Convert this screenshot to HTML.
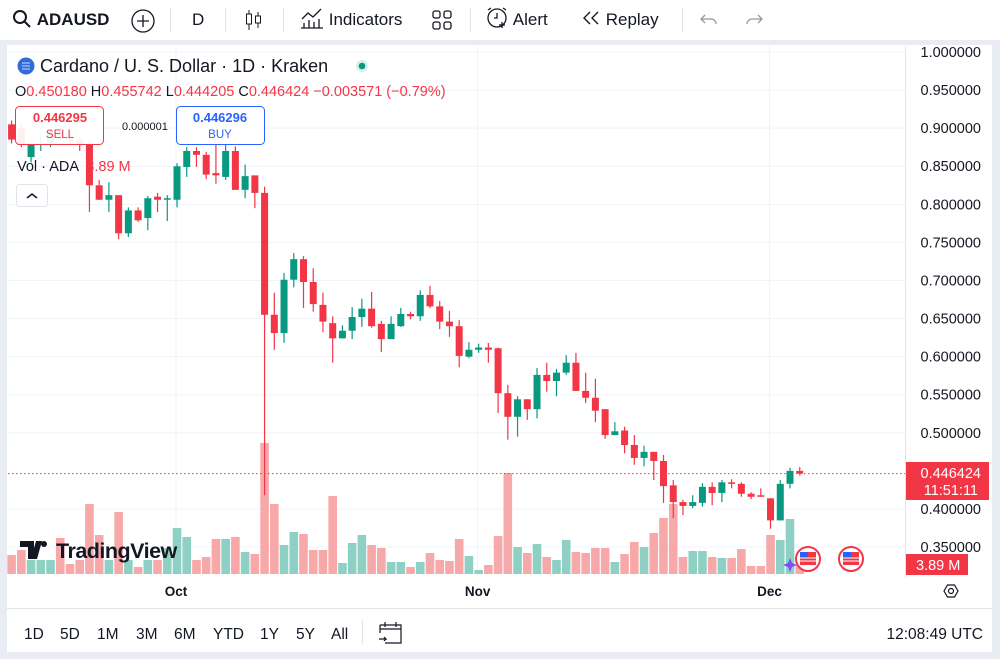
<!DOCTYPE html>
<html><head><meta charset="utf-8">
<style>
body{margin:0;width:1000px;height:659px;overflow:hidden;background:#e9ecf2;font-family:"Liberation Sans",sans-serif;color:#131722}
#top{position:absolute;left:0;top:0;width:1000px;height:40px;background:#fff}
.tb{position:absolute;top:0;height:40px;line-height:40px;font-size:17px;color:#131722}
.div{position:absolute;top:8px;width:1px;height:24px;background:#e0e3eb}
#panel{position:absolute;left:7px;top:45px;width:985px;height:607px;background:#fff}
svg text{font-family:"Liberation Sans",sans-serif}
</style></head><body>
<div id="top">
  <div class="tb" style="left:12px"><svg width="20" height="20" style="vertical-align:-4px"><circle cx="8" cy="8" r="6" fill="none" stroke="#131722" stroke-width="2"/><line x1="12.5" y1="12.5" x2="18" y2="18" stroke="#131722" stroke-width="2"/></svg> <b>ADAUSD</b></div>
  <svg style="position:absolute;left:130px;top:8px" width="26" height="26"><circle cx="13" cy="13" r="11" fill="none" stroke="#131722" stroke-width="1.3"/><path d="M13 7v12M7 13h12" stroke="#131722" stroke-width="1.3"/></svg>
  <div class="div" style="left:170px"></div>
  <div class="tb" style="left:192px">D</div>
  <div class="div" style="left:225px"></div>
  <svg style="position:absolute;left:243px;top:8px" width="22" height="24"><path d="M6 2v20M15 4v16" stroke="#131722"/><rect x="3.5" y="6" width="5" height="10" fill="#fff" stroke="#131722"/><rect x="12.5" y="8" width="5" height="7" fill="#fff" stroke="#131722"/></svg>
  <div class="div" style="left:283px"></div>
  <div class="tb" style="left:300px"><svg width="24" height="22" style="vertical-align:-4px"><path d="M2 12l6-6 5 4 8-8" fill="none" stroke="#131722" stroke-width="1.3"/><path d="M4 21v-5M9 21v-8M14 21v-6M19 21v-9M1 21h22" stroke="#131722" stroke-width="1.3"/></svg> Indicators</div>
  <svg style="position:absolute;left:431px;top:9px" width="22" height="22"><rect x="2" y="2" width="7" height="7" rx="2" fill="none" stroke="#131722" stroke-width="1.3"/><rect x="13" y="2" width="7" height="7" rx="2" fill="none" stroke="#131722" stroke-width="1.3"/><rect x="2" y="13" width="7" height="7" rx="2" fill="none" stroke="#131722" stroke-width="1.3"/><rect x="13" y="13" width="7" height="7" rx="2" fill="none" stroke="#131722" stroke-width="1.3"/></svg>
  <div class="div" style="left:470px"></div>
  <div class="tb" style="left:485px"><svg width="24" height="24" style="vertical-align:-5px"><circle cx="12" cy="12" r="9" fill="none" stroke="#131722" stroke-width="1.3"/><path d="M12 7v5h-3M3 4l3-2M21 4l-3-2M17 16v6M14 19h6" stroke="#131722" stroke-width="1.3" fill="none"/></svg> Alert</div>
  <div class="tb" style="left:581px"><svg width="20" height="20" style="vertical-align:-3px"><path d="M9 4L3 10l6 6M17 4l-6 6 6 6" fill="none" stroke="#131722" stroke-width="1.4"/></svg> Replay</div>
  <div class="div" style="left:682px"></div>
  <svg style="position:absolute;left:699px;top:10px" width="20" height="20"><path d="M6 5L2 9l4 4M2 9h10a5 5 0 0 1 5 5" fill="none" stroke="#9598a1" stroke-width="1.3"/></svg>
  <svg style="position:absolute;left:744px;top:10px" width="20" height="20"><path d="M14 5l4 4-4 4M18 9H8a5 5 0 0 0-5 5" fill="none" stroke="#9598a1" stroke-width="1.3"/></svg>
</div>
<div id="panel"></div>
<svg id="chart" style="position:absolute;left:0;top:0" width="1000" height="659">
  <g id="grid"></g>
  <g id="vols"></g>
  <g id="candles"></g>
  <g id="axis"></g>
</svg>
<script>
const opens=[.905,.900,.862,.878,.880,.895,.890,.885,.878,.825,.806,.812,.762,.792,.782,.810,.806,.806,.849,.870,.865,.841,.836,.870,.819,.838,.815,.655,.631,.701,.728,.698,.668,.644,.624,.634,.652,.663,.643,.623,.640,.656,.653,.681,.666,.646,.640,.600,.609,.612,.611,.552,.521,.544,.531,.576,.568,.579,.592,.555,.546,.531,.497,.503,.484,.467,.475,.463,.431,.409,.404,.408,.429,.421,.435,.433,.420,.418,.414,.385,.433,.450];
const highs=[.910,.905,.880,.890,.898,.900,.895,.890,.882,.832,.829,.812,.796,.796,.811,.815,.812,.854,.875,.875,.869,.878,.878,.876,.852,.838,.823,.684,.710,.736,.732,.716,.684,.653,.641,.665,.676,.685,.647,.653,.664,.659,.687,.693,.673,.660,.648,.619,.617,.618,.612,.563,.548,.544,.585,.592,.584,.602,.605,.579,.571,.531,.514,.508,.497,.483,.475,.471,.438,.412,.418,.434,.435,.438,.439,.435,.422,.427,.414,.438,.454,.455];
const lows=[.880,.875,.855,.870,.875,.885,.878,.870,.790,.806,.790,.754,.757,.777,.766,.790,.778,.796,.836,.849,.833,.827,.832,.819,.808,.795,.418,.609,.618,.691,.664,.659,.632,.592,.624,.623,.639,.638,.606,.623,.639,.649,.647,.664,.636,.626,.586,.598,.605,.592,.526,.491,.495,.517,.519,.554,.548,.576,.555,.539,.514,.492,.497,.473,.458,.456,.438,.408,.388,.392,.401,.403,.405,.409,.427,.416,.413,.416,.374,.385,.427,.444];
const closes=[.885,.878,.878,.880,.895,.890,.885,.878,.825,.806,.812,.762,.792,.779,.808,.806,.808,.850,.870,.865,.839,.838,.870,.819,.837,.815,.655,.631,.701,.728,.698,.669,.646,.624,.634,.652,.663,.640,.623,.643,.656,.653,.681,.666,.646,.640,.601,.609,.612,.609,.552,.521,.544,.531,.576,.568,.579,.592,.555,.546,.529,.497,.502,.484,.467,.475,.463,.430,.409,.404,.409,.429,.421,.435,.433,.420,.416,.416,.385,.433,.450,.446424];
const volumes=[7.6,9.6,5.6,5.6,5.6,14.4,4,5.6,28,15.6,5.6,24.8,5.6,2.8,5.6,5.6,10.4,18.4,14.8,5.6,6.8,14,14,14.8,8.8,8,52.4,28,11.6,16.8,16,9.6,9.6,31.2,4.4,12.4,15.6,11.6,10.4,4.8,4.8,2.8,4.8,8.4,5.6,5.2,14,7.2,1.6,3.6,15.2,40.4,10.8,8.4,12,6.8,5.6,13.6,8.8,8.4,10.4,10.4,4.8,8,12.8,10.8,16.4,22.4,28,6.8,9.2,9.2,6.8,6.4,6.4,10,3.2,3.2,15.6,13.6,22,3.89];
const priceTicks=[1.0,0.95,0.9,0.85,0.8,0.75,0.7,0.65,0.6,0.55,0.5,0.4,0.35];
const monthLabels=["Oct","Nov","Dec"];
const monthIdx=[17,48,78];
const lastPrice=0.446424;

const NS="http://www.w3.org/2000/svg";
const xS=i=>11.6+i*9.73;
const yP=p=>52+(1-p)*761.6;
const yV=v=>574-v*2.5;
function mk(tag,attrs,parent,txt){const e=document.createElementNS(NS,tag);for(const k in attrs)e.setAttribute(k,attrs[k]);if(txt!==undefined)e.textContent=txt;parent.appendChild(e);return e;}
const grid=document.getElementById('grid'),vols=document.getElementById('vols'),cg=document.getElementById('candles'),ax=document.getElementById('axis');
priceTicks.forEach(p=>{const l=mk('line',{x1:8,x2:905,y1:yP(p),y2:yP(p),stroke:'#f0f3fa'},grid);

});
monthIdx.forEach(i=>{const l=mk('line',{x1:xS(i)-1,x2:xS(i)-1,y1:46,y2:578,stroke:'#f0f3fa'},grid);

});
volumes.forEach((v,i)=>{const up=closes[i]>=opens[i];
const r=mk('rect',{x:xS(i)-4.3,y:yV(v),width:8.6,height:574-yV(v),fill:up?'#8fd0c5':'#f7a9a9'},vols);

});
closes.forEach((c,i)=>{const o=opens[i],up=c>=o,col=up?'#089981':'#f23645';
const g=mk('g',{},cg);


mk('line',{x1:xS(i),x2:xS(i),y1:yP(highs[i]),y2:yP(lows[i]),stroke:col,'stroke-width':1.2},g);
const t=yP(Math.max(o,c)),b=yP(Math.min(o,c));
mk('rect',{x:xS(i)-3.5,y:t,width:7,height:Math.max(1.5,b-t),fill:col},g);});
const lp=mk('line',{x1:8,x2:905,y1:yP(lastPrice),y2:yP(lastPrice),stroke:'#f23645','stroke-dasharray':'1.5 2.5','stroke-width':1},ax);


priceTicks.forEach(p=>{const t=mk('text',{x:981,y:yP(p)+5,'text-anchor':'end','font-size':14.5,fill:'#131722'},ax,p.toFixed(6));

});
monthLabels.forEach((m,i)=>{const t=mk('text',{x:xS(monthIdx[i])-1,y:596,'text-anchor':'middle','font-size':13.5,'font-weight':'bold',fill:'#131722'},ax,m);

});
</script>
<svg style="position:absolute;left:0;top:0;pointer-events:none" width="1000" height="659">
  <rect x="905" y="46" width="1" height="532" fill="#e0e3eb"/>
  <rect x="7" y="608" width="985" height="1" fill="#e0e3eb"/>
  <g><rect x="906" y="462" width="83" height="38" fill="#f23645"/><text x="981" y="478" text-anchor="end" font-size="14.5" fill="#fff">0.446424</text><text x="978" y="495" text-anchor="end" font-size="14.5" fill="#fff">11:51:11</text></g>
  <g><rect x="906" y="554" width="62" height="21" fill="#f23645"/><text x="916" y="570" font-size="14.5" fill="#fff">3.89 M</text></g>
  <g><polygon points="944,591 947.5,585 954.5,585 958,591 954.5,597 947.5,597" fill="none" stroke="#131722" stroke-width="1.2"/><circle cx="951" cy="591" r="2.5" fill="none" stroke="#131722" stroke-width="1.2"/></g>
  <g>
   <circle cx="26" cy="66" r="8.5" fill="#2f6bd9"/><path d="M22 63h8M22 66h8M22 69h8" stroke="#fff" stroke-width="0.8"/>
   <text x="40" y="72" font-size="18" fill="#131722">Cardano / U. S. Dollar · 1D · Kraken</text>
   <circle cx="362" cy="66" r="6" fill="#d6f1ea"/><circle cx="362" cy="66" r="3.3" fill="#089981"/>
   <text x="15" y="96" font-size="14.5" fill="#131722">O<tspan fill="#f23645">0.450180</tspan> H<tspan fill="#f23645">0.455742</tspan> L<tspan fill="#f23645">0.444205</tspan> C<tspan fill="#f23645">0.446424 −0.003571 (−0.79%)</tspan></text>
  </g>
  <g><rect x="15.5" y="106.5" width="88" height="38" rx="4" fill="#fff" fill-opacity="0.92" stroke="#f23645"/><text x="60" y="122" text-anchor="middle" font-size="13" font-weight="bold" fill="#f23645">0.446295</text><text x="60" y="138" text-anchor="middle" font-size="11.5" fill="#f23645">SELL</text></g>
  <text x="122" y="130" font-size="11" fill="#131722">0.000001</text>
  <g><rect x="176.5" y="106.5" width="88" height="38" rx="4" fill="#fff" fill-opacity="0.92" stroke="#2962ff"/><text x="220" y="122" text-anchor="middle" font-size="13" font-weight="bold" fill="#2962ff">0.446296</text><text x="220" y="138" text-anchor="middle" font-size="11.5" fill="#2962ff">BUY</text></g>
  <text x="17" y="171" font-size="14.5" fill="#131722">Vol · ADA <tspan fill="#f23645" dx="4">3.89 M</tspan></text>
  <g><rect x="16.5" y="184.5" width="31" height="22" rx="3" fill="#fff" stroke="#e0e3eb"/><path d="M27 198l5-4 5 4" fill="none" stroke="#131722" stroke-width="1.5"/></g>
  <g><path d="M20 541h14v18h-6v-12h-8z M36 541h6l-5 18h-6z" fill="#131722"/><circle cx="44" cy="544" r="3" fill="#131722"/><text x="56" y="558" font-size="21.5" font-weight="bold" fill="#131722" letter-spacing="-0.5">TradingView</text></g>
  <g><circle cx="808" cy="559" r="12" fill="#fff" stroke="#f23645" stroke-width="2"/><rect x="800" y="552" width="16" height="13" fill="#f23645"/><rect x="800" y="552" width="8" height="6" fill="#2962ff"/><path d="M800 558h16M800 561h16" stroke="#fff"/></g>
  <path d="M790 558l2 5 5 2-5 2-2 5-2-5-5-2 5-2z" fill="#7b4dff"/>
  <g><circle cx="851" cy="559" r="12" fill="#fff" stroke="#f23645" stroke-width="2"/><rect x="843" y="552" width="16" height="13" fill="#f23645"/><rect x="843" y="552" width="8" height="6" fill="#2962ff"/><path d="M843 558h16M843 561h16" stroke="#fff"/></g>
  <g font-size="15.5" fill="#131722">
   <text x="24" y="639">1D</text><text x="60" y="639">5D</text><text x="97" y="639">1M</text><text x="136" y="639">3M</text><text x="174" y="639">6M</text><text x="213" y="639">YTD</text><text x="260" y="639">1Y</text><text x="296" y="639">5Y</text><text x="331" y="639">All</text>
  </g>
  <rect x="362" y="620" width="1" height="24" fill="#e0e3eb"/>
  <g><path d="M380 625h21v18h-16M380 625v8M380 629h21M385 622v5M396 622v5M379 639h7l-2-2M386 639l-2 2" fill="none" stroke="#131722" stroke-width="1.2"/></g>
  <text x="983" y="639" text-anchor="end" font-size="15.5" fill="#131722">12:08:49 UTC</text>
</svg>
</body></html>
